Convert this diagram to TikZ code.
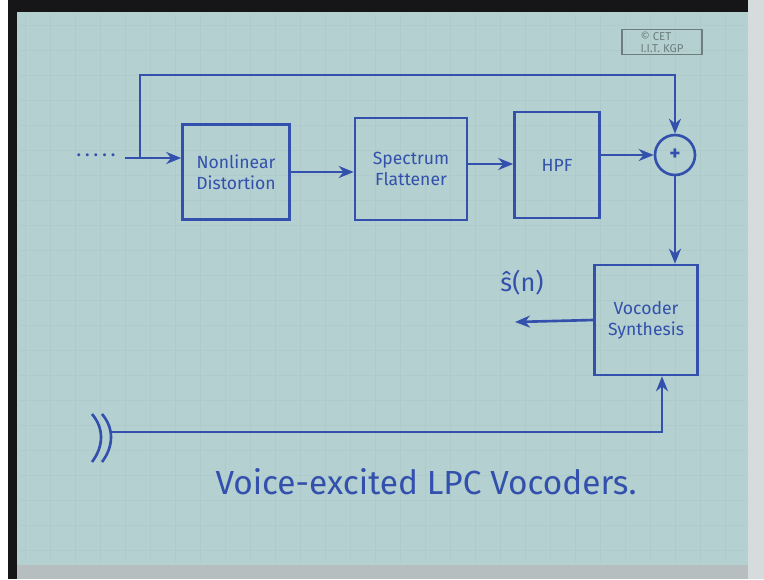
\documentclass[tikz,border=0pt]{standalone}
\usepackage{fontspec}
\setmainfont{Fira Sans}
\usetikzlibrary{positioning,arrows.meta}
\definecolor{SlideTeal}{RGB}{180,208,208}
\definecolor{GridTeal}{RGB}{174,202,203}
\definecolor{InkBlue}{RGB}{50,80,172}
\definecolor{FrameBlack}{RGB}{22,22,24}
\definecolor{EdgeGray}{RGB}{214,220,222}
\definecolor{BadgeGray}{RGB}{110,125,128}

\begin{document}
\begin{tikzpicture}[
  x=0.02cm, y=-0.02cm,
  font=\normalsize,
  block/.style={draw=InkBlue, line width=1.5pt, text=InkBlue, align=center, inner sep=2pt},
  adder/.style={draw=InkBlue, line width=1.5pt, circle, minimum size=0.8cm, inner sep=0pt, text=InkBlue, font=\large\bfseries},
  arrow/.style={-{Stealth[length=3mm,width=2.4mm]}, line width=1.5pt, color=InkBlue},
  wire/.style={line width=1.5pt, color=InkBlue}
]
% Slide and frame
\useasboundingbox (0,0) rectangle (764,579);
\fill[white] (0,0) rectangle (764,579);
\fill[EdgeGray] (748,0) rectangle (764,579);
\fill[FrameBlack] (8,0) rectangle (748,12);
\fill[FrameBlack] (8,0) rectangle (17,579);
\fill[SlideTeal] (17,12) rectangle (748,565);
\fill[BadgeGray!50] (17,565) rectangle (748,579);
\draw[GridTeal, line width=0.3pt, step=0.5cm] (20,15) grid (745,562);

% Badge
\node[draw=BadgeGray, line width=0.6pt, text=BadgeGray, font=\fontsize{6.5}{7}\selectfont, align=left, minimum width=1.6cm, minimum height=0.42cm, inner sep=1pt] (cet) at (662,42) {© CET\\I.I.T. KGP};

% Blocks
\node[block, minimum width=2.14cm, minimum height=1.9cm] (nld) at (236,172) {Nonlinear\\Distortion};
\node[block, minimum width=2.24cm, minimum height=2.04cm] (sfl) at (411,169) {Spectrum\\Flattener};
\node[block, minimum width=1.7cm, minimum height=2.12cm] (hpf) at (557,165) {HPF};
\node[adder] (add) at (675,155) {+};
\node[block, minimum width=2.06cm, minimum height=2.2cm] (voc) at (646,320) {Vocoder\\Synthesis};

% Input and feedforward path
\node[text=InkBlue, font=\large, inner sep=0pt] (dots) at (96,155) {.\,.\,.\,.\,.};
\coordinate (in) at (125,158);
\coordinate (tap) at (140,158);
\coordinate (fb) at (140,75);
\draw[arrow] (in) -- (in -| nld.west);
\draw[arrow] (tap) -- (fb) -| (add.north);

% Forward chain
\draw[arrow] (nld.east) -- (nld.east -| sfl.west);
\draw[arrow] ([yshift=0.1cm]sfl.east) -- ([yshift=0.1cm]sfl.east -| hpf.west);
\draw[arrow] (add.west -| hpf.east) -- (add.west);
\draw[arrow] (add.south) -- (add.south |- voc.north);

% Output
\coordinate (out) at (515,322);
\draw[arrow] (voc.west) -- (out);
\node[text=InkBlue, font=\Large] (shat) at (522,283) {ŝ(n)};

% Excitation from the break
\coordinate (brk) at (112,432);
\draw[wire] (92,414) .. controls (104,428) and (104,446) .. (92,462);
\draw[wire] (102,414) .. controls (114,428) and (114,446) .. (102,462);
\draw[arrow] (brk) -| ([xshift=0.32cm]voc.south);

% Caption
\node[text=InkBlue, font=\fontsize{19}{22}\selectfont] (title) at (426,482) {Voice-excited LPC Vocoders.};
\end{tikzpicture}
\end{document}
